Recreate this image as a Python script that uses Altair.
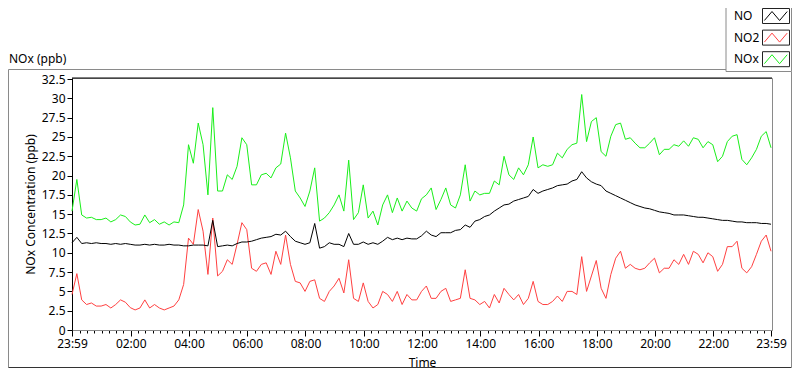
import altair as alt
import pandas as pd

# ---- data (minutes after 23:59, every 10 min) ----
times_min = list(range(0, 1441, 10))

nox_vals = [
    15.4, 19.5, 14.9, 14.5, 14.6, 14.3, 14.3, 14.5, 14.0, 14.3, 14.9, 14.7, 14.0, 13.6, 13.7, 14.9, 13.9, 14.3,
    13.7, 14.0, 13.6, 14.0, 13.9, 16.2, 24.0, 21.6, 26.8, 24.0, 17.5, 28.8, 18.0, 18.0, 20.1, 19.5, 21.2, 24.9,
    24.0, 18.8, 18.8, 20.1, 20.3, 19.7, 21.0, 21.5, 25.5, 22.3, 18.0, 17.1, 16.0, 18.0, 21.0, 14.1, 14.5, 15.2,
    16.2, 17.5, 15.4, 22.0, 14.3, 15.2, 18.8, 14.5, 15.4, 13.6, 16.2, 17.5, 15.2, 17.1, 15.4, 16.7, 15.8, 15.4,
    17.0, 17.5, 18.4, 15.6, 16.9, 18.4, 16.2, 15.8, 17.5, 21.4, 16.7, 18.0, 17.5, 17.7, 17.7, 19.3, 18.8, 22.5,
    20.1, 19.5, 21.0, 20.1, 21.4, 25.0, 21.0, 21.4, 21.2, 21.4, 22.9, 22.3, 23.4, 24.0, 24.2, 30.5, 24.4, 27.0,
    27.5, 23.1, 22.5, 25.1, 26.6, 26.8, 24.7, 24.9, 24.2, 23.6, 23.6, 24.2, 24.9, 22.7, 23.4, 23.4, 24.0, 23.8,
    24.5, 23.8, 24.9, 24.7, 23.6, 24.4, 24.0, 21.8, 22.5, 24.4, 25.1, 25.3, 22.1, 21.4, 22.3, 23.4, 25.1, 25.7,
    23.6,
]

no2_vals = [
    4.6, 7.3, 3.9, 3.3, 3.5, 3.1, 3.1, 3.3, 2.85, 3.3, 3.9, 3.6, 2.9, 2.6, 2.85, 3.9, 2.85, 3.3,
    2.85, 2.6, 2.85, 3.1, 3.9, 5.9, 11.9, 11.1, 15.6, 12.8, 7.2, 14.5, 7.0, 7.6, 9.1, 8.5, 11.1, 13.9,
    13.0, 8.0, 7.6, 8.5, 8.7, 7.2, 10.2, 8.5, 12.3, 8.5, 6.3, 6.1, 5.0, 6.3, 6.5, 4.1, 3.7, 5.0,
    5.7, 6.7, 4.8, 9.1, 4.1, 3.7, 6.1, 3.7, 2.85, 3.3, 5.0, 4.6, 3.7, 5.0, 3.3, 4.6, 3.9, 3.9,
    5.0, 5.7, 4.1, 4.1, 5.0, 5.4, 3.7, 3.9, 4.1, 7.8, 4.1, 3.9, 3.3, 3.7, 2.85, 4.6, 3.5, 5.4,
    4.6, 3.9, 4.6, 3.3, 4.1, 6.3, 3.7, 3.3, 3.3, 3.7, 4.4, 3.7, 5.0, 5.0, 4.6, 9.5, 5.0, 7.0,
    9.0, 5.4, 4.1, 7.2, 9.3, 10.2, 8.0, 8.5, 8.0, 7.8, 8.0, 8.7, 9.3, 7.4, 8.0, 8.0, 9.1, 8.5,
    9.8, 8.5, 10.2, 9.8, 8.7, 10.0, 9.5, 7.6, 8.5, 10.8, 10.8, 11.5, 8.0, 7.4, 8.2, 9.8, 11.5, 12.3,
    10.2,
]

no_vals = [
    11.3, 12.0, 11.2, 11.3, 11.2, 11.3, 11.2, 11.2, 11.1, 11.2, 11.1, 11.2, 11.1, 11.0, 11.0, 11.1, 11.0, 11.1,
    11.0, 11.0, 11.1, 11.0, 11.0, 10.9, 10.9, 11.0, 11.0, 11.0, 10.9, 14.2, 10.8, 10.9, 11.0, 10.9, 11.2, 11.4,
    11.4, 11.5, 11.7, 11.9, 12.0, 12.1, 12.4, 12.3, 12.8, 12.1, 11.5, 11.3, 11.1, 11.3, 13.8, 10.6, 10.8, 11.3,
    11.1, 11.1, 10.8, 12.5, 11.1, 11.1, 11.4, 11.1, 11.3, 11.1, 11.5, 12.0, 11.7, 11.9, 11.7, 11.9, 11.8, 11.8,
    12.2, 12.8, 12.3, 12.1, 12.6, 12.6, 12.6, 12.9, 13.0, 13.6, 13.3, 14.1, 14.3, 14.7, 14.9, 15.4, 15.8, 16.2,
    16.3, 16.7, 16.9, 17.1, 17.3, 18.2, 17.7, 18.0, 18.2, 18.4, 18.7, 18.8, 18.9, 19.3, 19.5, 20.5, 19.7, 19.2,
    18.9, 18.7, 18.0, 17.7, 17.4, 17.1, 16.8, 16.5, 16.2, 16.0, 15.8, 15.7, 15.5, 15.3, 15.2, 15.1, 14.9, 14.9,
    14.9, 14.8, 14.7, 14.6, 14.6, 14.5, 14.4, 14.3, 14.2, 14.2, 14.1, 14.0, 14.0, 13.9, 13.9, 13.9, 13.8, 13.8,
    13.7,
]

series_names = ["NO", "NO2", "NOx"]
series_colors = ["#000000", "#ff4040", "#1aef1a"]

major_tick_min = [0, 121, 241, 361, 481, 601, 721, 841, 961, 1081, 1201, 1321, 1440]
major_tick_labels = ["23:59", "02:00", "04:00", "06:00", "08:00", "10:00", "12:00",
                     "14:00", "16:00", "18:00", "20:00", "22:00", "23:59"]
minor_tick_min = list(range(1, 1441, 15))
y_ticks = [0, 2.5, 5, 7.5, 10, 12.5, 15, 17.5, 20, 22.5, 25, 27.5, 30, 32.5]

# ---- table ----
rows = []
for name, vals in [("NOx", nox_vals), ("NO2", no2_vals), ("NO", no_vals)]:
    for t, v in zip(times_min, vals):
        rows.append({"t": t, "v": v, "series": name})
df = pd.DataFrame(rows)

FONT = "Noto Sans"
W, H = 700, 252

label_map = "{" + ",".join(f"'{m}':'{l}'" for m, l in zip(major_tick_min, major_tick_labels)) + "}"

x_scale = alt.Scale(domain=[0, 1442], nice=False, zero=False)
y_scale = alt.Scale(domain=[0, 32.64], nice=False, zero=True)

zig = "M-1.45,0.56L-0.5,-0.56L0.45,0.56L1.4,-0.56"

lines = alt.Chart(df).mark_line(strokeWidth=1, interpolate="linear").encode(
    x=alt.X("t:Q", scale=x_scale,
            axis=alt.Axis(orient="bottom", values=major_tick_min, labelExpr=label_map + "[datum.value]",
                          tickSize=6, tickColor="black", domainColor="#8a8a8a", grid=False,
                          labelFont=FONT, labelFontSize=12, labelColor="#000000", labelPadding=2,
                          labelOverlap=False, labelFlush=False, labelBound=False,
                          title="Time", titleFont=FONT, titleFontSize=12, titleFontWeight="normal",
                          titleColor="#000000", titleX=350, titleY=32, titleBaseline="middle",
                          titleAlign="center")),
    y=alt.Y("v:Q", scale=y_scale,
            axis=alt.Axis(orient="left", values=y_ticks,
                          labelExpr="datum.value % 1 == 0 ? format(datum.value, 'd') : format(datum.value, '.1f')",
                          tickSize=5, tickColor="black",
                          domainColor="black", grid=False, labelFont=FONT, labelFontSize=12,
                          labelColor="#000000", labelPadding=2, labelOverlap=False,
                          title="NOx Concentration (ppb)", titleFont=FONT, titleFontSize=12,
                          titleFontWeight="normal", titleColor="#000000", titleAngle=270,
                          titleX=-42, titleY=126, titleAlign="center", titleBaseline="middle")),
    color=alt.Color("series:N", scale=alt.Scale(domain=series_names, range=series_colors),
                    legend=None),
)

minor = alt.Chart(df).mark_line(opacity=0).encode(
    x=alt.X("t:Q", scale=x_scale,
            axis=alt.Axis(orient="bottom", values=minor_tick_min, labels=False, tickSize=3,
                          tickColor="black", domain=False, grid=False, title=None)),
    y=alt.value(0),
)

one = pd.DataFrame({"k": [0]})
base = alt.Chart(one)

LX0, LX1 = 654, 719.5   # legend frame (relative to plot origin)
deco = []
# plot frame: top edge black
deco.append(base.mark_rule(color="black", strokeWidth=1).encode(
    x=alt.value(0), x2=alt.value(W), y=alt.value(0)))
# panel border
deco.append(base.mark_rule(color="#8a8a8a").encode(x=alt.value(-63.5), x2=alt.value(LX0), y=alt.value(-8.5)))
deco.append(base.mark_rule(color="#8a8a8a").encode(x=alt.value(-63.5), y=alt.value(-8.5), y2=alt.value(289.5)))
deco.append(base.mark_rule(color="#333333").encode(x=alt.value(-63.5), x2=alt.value(LX1), y=alt.value(289.5)))
deco.append(base.mark_rule(color="#8a8a8a").encode(x=alt.value(LX1), y=alt.value(-6.5), y2=alt.value(289.5)))
# legend frame
deco.append(base.mark_rect(fill="white", stroke="#8a8a8a", strokeWidth=1).encode(
    x=alt.value(LX0), x2=alt.value(LX1), y=alt.value(-80), y2=alt.value(-6.5)))
# legend entries
for k, (name, col) in enumerate(zip(series_names, series_colors)):
    cy = -62 + k * 21.6
    deco.append(base.mark_rect(fill="white", stroke="#222222", strokeWidth=1).encode(
        x=alt.value(690.5), x2=alt.value(717.5), y=alt.value(cy - 7.5), y2=alt.value(cy + 7.5)))
    deco.append(base.mark_point(shape=zig, size=256, filled=False, stroke=col, strokeWidth=1,
                                opacity=1).encode(x=alt.value(704), y=alt.value(cy)))
    deco.append(base.mark_text(text=name, font=FONT, fontSize=12, color="#000000",
                               align="left", baseline="middle").encode(x=alt.value(662), y=alt.value(cy)))
# chart caption
deco.append(base.mark_text(text="NOx (ppb)", font=FONT, fontSize=12, color="#000000",
                           align="left", baseline="middle").encode(x=alt.value(-63), y=alt.value(-19)))

chart = alt.layer(*deco, minor, lines).resolve_axis(x="independent").properties(
    width=W, height=H,
    autosize=alt.AutoSizeParams(type="none"),
    padding={"left": 64, "top": 70, "right": 20, "bottom": 39},
    background="white",
).configure_view(stroke="#8a8a8a", strokeWidth=1)

chart.save("out.html", embed_options={"renderer": "svg", "actions": False})
